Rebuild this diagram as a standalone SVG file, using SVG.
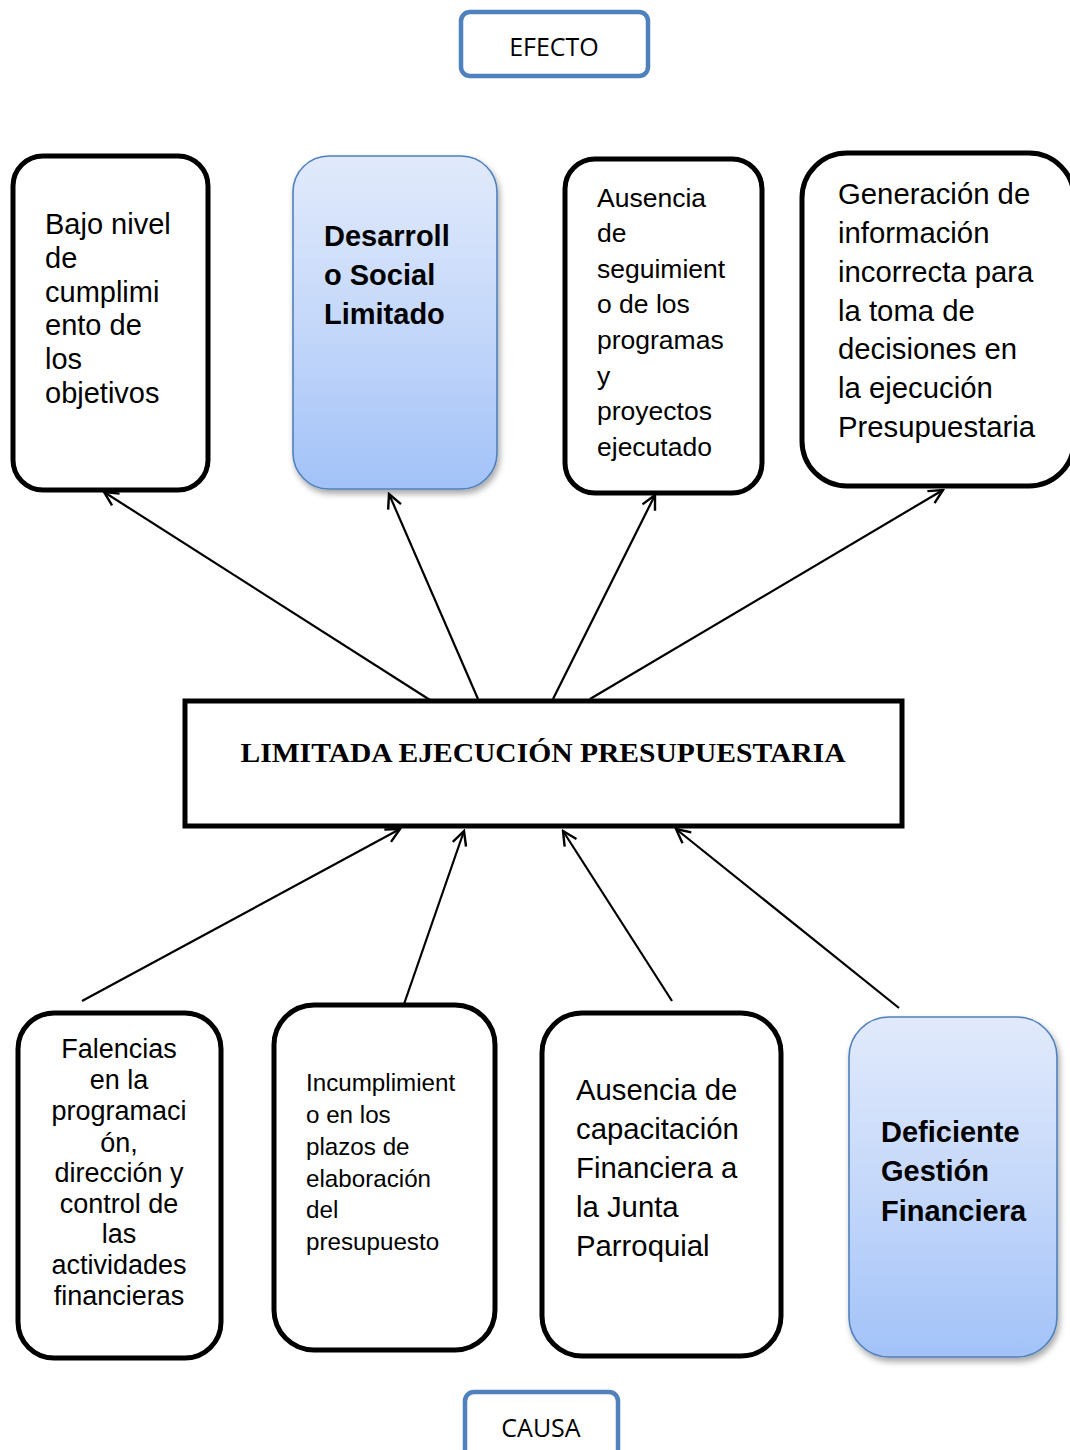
<svg xmlns="http://www.w3.org/2000/svg" width="1070" height="1450" viewBox="0 0 1070 1450">
<style>
.box{fill:#fff;stroke:#000;stroke-width:5}
.blue{fill:url(#g);stroke:#4f81bd;stroke-width:1.6;filter:url(#sh)}
.lbl{fill:#fff;stroke:#4f81bd;stroke-width:4.5}
.t{font-family:"Liberation Sans",Arial,sans-serif;fill:#000}
.b{font-weight:bold}
.c{font-family:"Open Sans","Liberation Sans",sans-serif;font-size:25px;text-anchor:middle}
.con{stroke:#000;stroke-width:2.2;fill:none;marker-end:url(#ah)}
</style>
<defs>
<linearGradient id="g" x1="0" y1="0" x2="0" y2="1">
<stop offset="0" stop-color="#e1eafb"/>
<stop offset="0.5" stop-color="#c5d8fa"/>
<stop offset="1" stop-color="#a2c2f8"/>
</linearGradient>
<filter id="sh" x="-10%" y="-10%" width="130%" height="130%">
<feDropShadow dx="2" dy="4" stdDeviation="3" flood-color="#000" flood-opacity="0.35"/>
</filter>
<marker id="ah" viewBox="0 0 20 20" refX="18" refY="10" markerWidth="20" markerHeight="20" markerUnits="userSpaceOnUse" orient="auto">
<path d="M4,3 L18,10 L4,17" fill="none" stroke="#000" stroke-width="2.4"/>
</marker>
</defs>
<rect width="1070" height="1450" fill="#fff"/>

<g id="efecto">
<rect class="lbl" x="461" y="12" width="187" height="64" rx="9"/>
<text class="c" x="554" y="56">EFECTO</text>
</g>

<g id="causa">
<rect class="lbl" x="465" y="1392" width="153" height="70" rx="9"/>
<text class="c" x="541" y="1437">CAUSA</text>
</g>

<g id="connectors">
<line class="con" x1="430" y1="700" x2="104" y2="492"/>
<line class="con" x1="478" y1="699" x2="389" y2="494"/>
<line class="con" x1="553" y1="699" x2="655" y2="495"/>
<line class="con" x1="590" y1="699" x2="943" y2="490"/>
<line class="con" x1="82" y1="1001" x2="400" y2="829"/>
<line class="con" x1="403" y1="1007" x2="464" y2="831"/>
<line class="con" x1="672" y1="1001" x2="563" y2="831"/>
<line class="con" x1="899" y1="1008" x2="676" y2="829"/>
</g>

<g id="n1">
<rect class="box" x="13" y="156" width="195" height="334" rx="30"/>
<text class="t" font-size="29"><tspan x="45" y="234">Bajo nivel</tspan><tspan x="45" y="268">de</tspan><tspan x="45" y="302">cumplimi</tspan><tspan x="45" y="335">ento de</tspan><tspan x="45" y="369">los</tspan><tspan x="45" y="403">objetivos</tspan></text>
</g>

<g id="n2">
<rect class="blue" x="293" y="156" width="204" height="333" rx="36"/>
<text class="t b" font-size="29"><tspan x="324" y="246">Desarroll</tspan><tspan x="324" y="285">o Social</tspan><tspan x="324" y="324">Limitado</tspan></text>
</g>

<g id="n3">
<rect class="box" x="565" y="159" width="197" height="334" rx="30"/>
<text class="t" font-size="26.5"><tspan x="597" y="207">Ausencia</tspan><tspan x="597" y="242">de</tspan><tspan x="597" y="278">seguimient</tspan><tspan x="597" y="313">o de los</tspan><tspan x="597" y="349">programas</tspan><tspan x="597" y="385">y</tspan><tspan x="597" y="420">proyectos</tspan><tspan x="597" y="456">ejecutado</tspan></text>
</g>

<g id="n4">
<rect class="box" x="802" y="153" width="272" height="333" rx="45"/>
<text class="t" font-size="29.3"><tspan x="838" y="204">Generación de</tspan><tspan x="838" y="243">información</tspan><tspan x="838" y="282">incorrecta para</tspan><tspan x="838" y="321">la toma de</tspan><tspan x="838" y="359">decisiones en</tspan><tspan x="838" y="398">la ejecución</tspan><tspan x="838" y="437">Presupuestaria</tspan></text>
</g>

<g id="center">
<rect class="box" x="185" y="701" width="717" height="125"/>
<text x="543" y="762" font-family="Liberation Serif,'Times New Roman',serif" font-weight="bold" font-size="27" text-anchor="middle" textLength="605" lengthAdjust="spacingAndGlyphs">LIMITADA EJECUCIÓN PRESUPUESTARIA</text>
</g>

<g id="n5">
<rect class="box" x="18" y="1013" width="203" height="345" rx="36"/>
<text class="t" font-size="27" text-anchor="middle"><tspan x="119" y="1058">Falencias</tspan><tspan x="119" y="1089">en la</tspan><tspan x="119" y="1120">programaci</tspan><tspan x="119" y="1152">ón,</tspan><tspan x="119" y="1182">dirección y</tspan><tspan x="119" y="1213">control de</tspan><tspan x="119" y="1243">las</tspan><tspan x="119" y="1274">actividades</tspan><tspan x="119" y="1305">financieras</tspan></text>
</g>

<g id="n6">
<rect class="box" x="274" y="1005" width="221" height="345" rx="40"/>
<text class="t" font-size="24.2"><tspan x="306" y="1091">Incumplimient</tspan><tspan x="306" y="1123">o en los</tspan><tspan x="306" y="1155">plazos de</tspan><tspan x="306" y="1187">elaboración</tspan><tspan x="306" y="1218">del</tspan><tspan x="306" y="1250">presupuesto</tspan></text>
</g>

<g id="n7">
<rect class="box" x="542" y="1013" width="239" height="343" rx="40"/>
<text class="t" font-size="29.3"><tspan x="576" y="1100">Ausencia de</tspan><tspan x="576" y="1139">capacitación</tspan><tspan x="576" y="1178">Financiera a</tspan><tspan x="576" y="1217">la Junta</tspan><tspan x="576" y="1256">Parroquial</tspan></text>
</g>

<g id="n8">
<rect class="blue" x="849" y="1017" width="208" height="340" rx="40"/>
<text class="t b" font-size="29"><tspan x="881" y="1142">Deficiente</tspan><tspan x="881" y="1181">Gestión</tspan><tspan x="881" y="1221">Financiera</tspan></text>
</g>
</svg>
